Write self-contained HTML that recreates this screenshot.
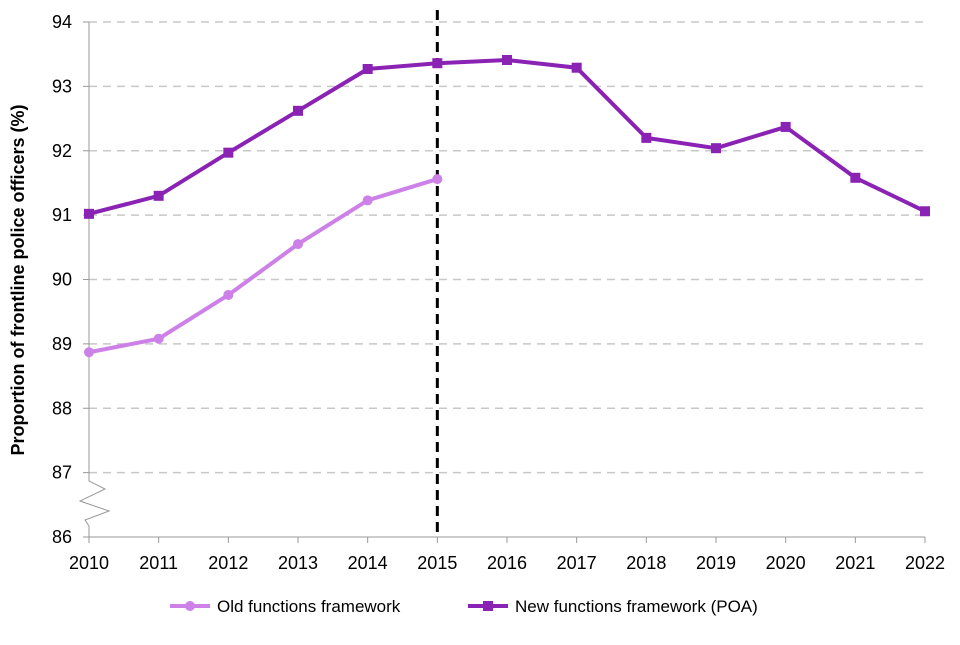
<!DOCTYPE html>
<html><head><meta charset="utf-8"><style>
body{margin:0;background:#fff;}
svg text{font-family:"Liberation Sans",Calibri,sans-serif;fill:#000;}
</style></head><body>
<svg id="chart" width="960" height="640" xmlns="http://www.w3.org/2000/svg">
<g id="grid"></g><g id="axes"></g><g id="series"></g>
<text transform="translate(24,280) rotate(-90)" text-anchor="middle" font-size="18" font-weight="bold">Proportion of frontline police officers (%)</text>
<g>
<g><line x1="170" y1="606" x2="210" y2="606" stroke="#cc80e8" stroke-width="4"/><circle cx="190" cy="606" r="5" fill="#cc80e8"/><text x="217" y="612" font-size="17">Old functions framework</text></g>
<g><line x1="468" y1="606" x2="508" y2="606" stroke="#8a22b4" stroke-width="4"/><rect x="483" y="601" width="10" height="10" fill="#8a22b4"/><text x="515" y="612" font-size="17">New functions framework (POA)</text></g>
</g>
</svg>
<script>
const years=[2010,2011,2012,2013,2014,2015,2016,2017,2018,2019,2020,2021,2022];
const newValues=[91.02,91.30,91.97,92.62,93.27,93.36,93.41,93.29,92.20,92.04,92.37,91.58,91.06];
const oldValues=[88.87,89.08,89.76,90.55,91.23,91.56];
const yTicks=[86,87,88,89,90,91,92,93,94];
const NS="http://www.w3.org/2000/svg";
const xS=y=>89+(y-2010)*(925-89)/12;
const yS=v=>537-(v-86)*(537-22)/8;
function mk(tag,attrs,parent){const e=document.createElementNS(NS,tag);for(const k in attrs)e.setAttribute(k,attrs[k]);document.getElementById(parent).appendChild(e);return e;}
yTicks.forEach(t=>{
 if(t>86){const g=mk('line',{x1:89,x2:925,y1:yS(t),y2:yS(t),stroke:'#c8c8c8','stroke-width':1.5,'stroke-dasharray':'8,6'},'grid');
 
 }
 const tk=mk('line',{x1:83,x2:89,y1:yS(t),y2:yS(t),stroke:'#999'},'axes');
 
 
 const l=mk('text',{x:72,y:yS(t)+6,'text-anchor':'end','font-size':18},'axes');l.textContent=t;
 
 
});
const ax=mk('path',{d:'M89,22 V481 L105,489 L80,501 L109,511 L85,520 L89,526 V537 H925',fill:'none',stroke:'#999','stroke-width':1},'axes');


years.forEach(y=>{
 const tk=mk('line',{x1:xS(y),x2:xS(y),y1:537,y2:543,stroke:'#999'},'axes');
 
 
 const l=mk('text',{x:xS(y),y:569,'text-anchor':'middle','font-size':18},'axes');l.textContent=y;
 
 
});
const div=mk('line',{x1:xS(2015),x2:xS(2015),y1:10,y2:537,stroke:'#000','stroke-width':3,'stroke-dasharray':'10,6'},'series');


const oldPts=oldValues.map((v,i)=>xS(years[i])+','+yS(v)).join(' ');
const ol=mk('polyline',{points:oldPts,fill:'none',stroke:'#cc80e8','stroke-width':4},'series');


oldValues.forEach((v,i)=>{const c=mk('circle',{cx:xS(years[i]),cy:yS(v),r:5,fill:'#cc80e8'},'series');
 
 });
const newPts=newValues.map((v,i)=>xS(years[i])+','+yS(v)).join(' ');
const nl=mk('polyline',{points:newPts,fill:'none',stroke:'#8a22b4','stroke-width':4},'series');


newValues.forEach((v,i)=>{const r=mk('rect',{x:xS(years[i])-5,y:yS(v)-5,width:10,height:10,fill:'#8a22b4'},'series');
 
 });
</script>
</body></html>
